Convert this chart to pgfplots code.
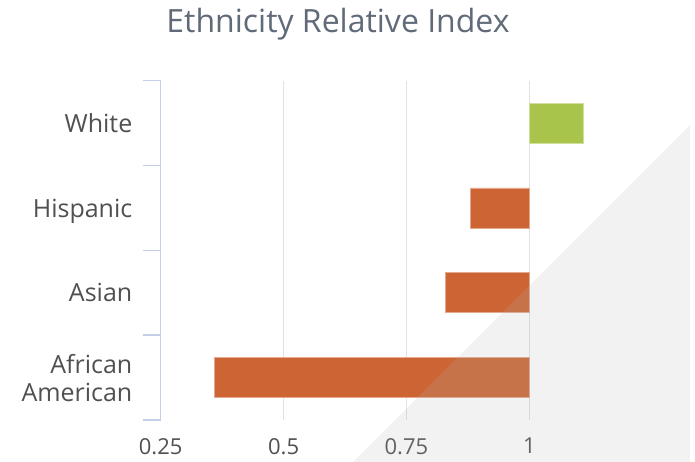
\documentclass[border=0pt]{standalone}
\usepackage{pgfplots}
\pgfplotsset{compat=1.18}
\usepackage{fontspec}
\setmainfont{Open Sans}
\definecolor{barorange}{RGB}{204,101,51}
\definecolor{bargreen}{RGB}{169,196,74}
\definecolor{axisblue}{RGB}{197,208,232}
\definecolor{gridgray}{RGB}{226,226,226}
\definecolor{titlecol}{RGB}{96,106,120}
\definecolor{labelcol}{RGB}{80,80,80}
\definecolor{cornergray}{RGB}{181,181,181}

\begin{document}
\begin{tikzpicture}
\useasboundingbox (0pt,0pt) rectangle (695pt,462pt);
\node[anchor=base, text=titlecol, font=\fontsize{32}{38}\selectfont, inner sep=0pt]
  at (338pt,429pt) {Ethnicity Relative Index};
\begin{axis}[
  at={(160.7pt,42pt)}, anchor=south west,
  scale only axis, width=466.9pt, height=339.3pt,
  % bars grow from the index baseline 1
  x coord trafo/.code={\pgfmathparse{#1-1}},
  x coord inv trafo/.code={\pgfmathparse{#1+1}},
  xmin=0.25, xmax=1.2, ymin=-0.5, ymax=3.5,
  axis lines*=left,
  x axis line style={draw=none},
  y axis line style={draw=axisblue, line width=1.5pt},
  major tick length=0pt,
  xtick={0.25,0.5,0.75,1}, xticklabels={0.25,0.5,0.75,1},
  xmajorgrids, grid style={draw=gridgray, line width=1pt},
  ytick={0,1,2,3},
  yticklabels={{African\\American},Asian,Hispanic,White},
  extra y ticks={-0.5,0.5,1.5,2.5,3.5}, extra y tick labels={},
  extra y tick style={major tick length=18pt, tick align=outside,
    tick style={draw=axisblue, line width=1.5pt}},
  yticklabel style={anchor=east, inner sep=0pt, xshift=-28.2pt, align=right,
    text depth=0pt, font=\fontsize{25}{28}\selectfont, text=labelcol},
  xticklabel style={anchor=north, inner sep=0pt, yshift=-18pt,
    font=\fontsize{22}{26}\selectfont, text=labelcol},
]
\addplot[xbar, bar width=40pt, bar shift=0pt, fill=bargreen,
  draw=bargreen!55!white, line width=0.6pt] coordinates {(1.11,3)};
\addplot[xbar, bar width=40pt, bar shift=0pt, fill=barorange,
  draw=barorange!55!white, line width=0.6pt] coordinates {(0.88,2) (0.83,1) (0.36,0)};
\end{axis}
% translucent corner panel
\fill[cornergray, opacity=0.18] (353pt,0pt) -- (690pt,337pt) -- (690pt,0pt) -- cycle;
\end{tikzpicture}
\end{document}
